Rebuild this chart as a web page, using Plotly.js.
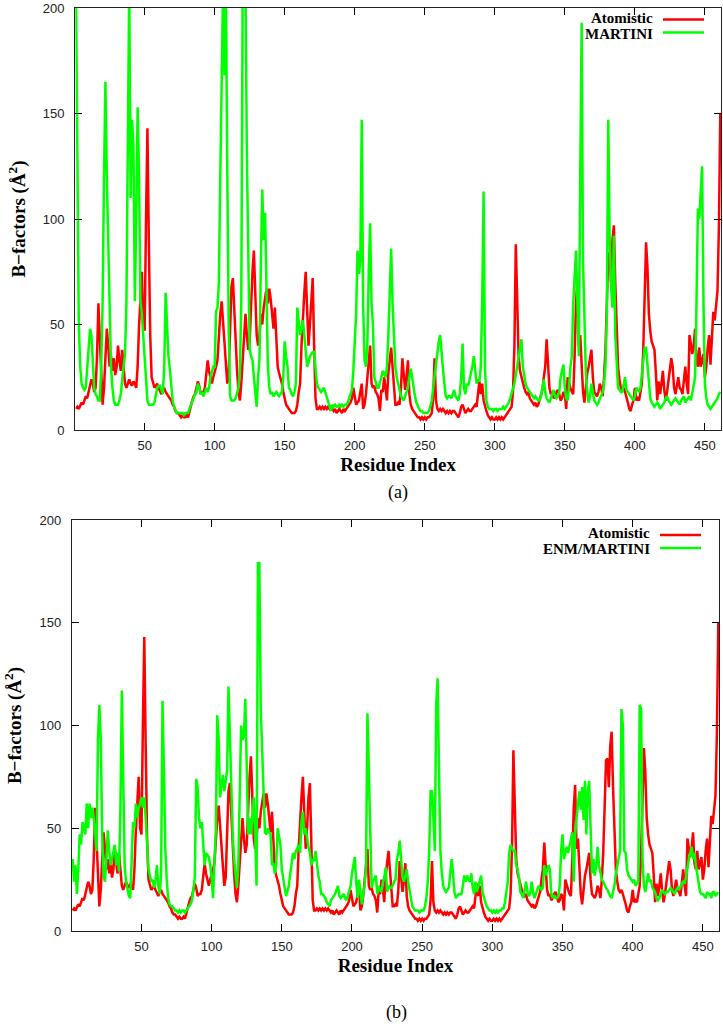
<!DOCTYPE html>
<html>
<head>
<meta charset="utf-8">
<script src="https://cdn.plot.ly/plotly-3.0.1.min.js"></script>
<style>html,body{margin:0;padding:0;background:#fff;}#chart{width:723px;height:1028px;}</style>
</head>
<body>
<div id="chart"></div>
<script>
// B-factors per residue (Å^2), residues 1..461
const atomistic = [
10,11,10,12,13,12,14,16,15,18,
20,24,22,18,20,35,60,45,25,12,
20,35,48,40,30,35,28,34,26,30,
40,33,28,38,30,22,20,22,24,22,
21,23,22,20,30,49,62,75,50,47,
100,143,90,45,25,22,20,21,22,20,
18,17,19,20,18,17,16,15,14,12,
11,9,8,8,7,6,7,6,6,7,
6,9,12,14,16,17,20,23,21,17,
18,18,20,26,33,28,24,22,25,27,
30,33,45,55,61,50,41,30,22,26,
50,68,72,55,40,28,18,14,22,35,
45,55,45,38,42,61,75,85,65,45,
40,45,55,50,58,62,67,60,67,62,
55,48,58,40,30,27,25,22,18,14,
12,11,10,9,8,8,8,9,12,18,
22,40,55,65,75,55,40,50,65,72,
40,15,10,10,11,10,11,10,11,10,
11,10,11,10,9,10,8,9,10,9,
8,10,9,10,11,12,13,15,20,16,
12,13,14,18,22,10,12,17,25,35,
40,22,20,21,18,17,15,9,19,18,
25,20,14,27,32,39,30,20,12,12,
13,12,20,34,25,19,25,33,17,12,
10,9,8,7,6,6,5,6,5,6,
5,6,6,7,8,15,34,14,10,9,
10,9,10,9,8,9,8,9,8,9,
9,8,7,6,8,11,12,10,8,9,
10,9,9,10,11,12,11,18,23,17,
22,14,11,9,7,6,5,6,5,5,
6,5,6,5,6,5,6,7,8,9,
10,11,18,40,88,60,35,28,25,22,
20,18,17,18,15,14,13,12,13,11,
12,14,16,19,25,30,43,28,20,17,
18,15,16,18,19,17,14,15,18,17,
10,25,22,20,18,17,35,60,71,40,
45,30,18,13,20,27,30,35,38,25,
18,17,16,18,22,20,16,25,38,60,
83,84,70,90,97,70,45,30,24,20,
19,20,18,16,13,10,9,12,14,20,
14,15,14,18,22,38,70,89,77,55,
47,42,40,38,27,14,23,17,22,28,
19,14,18,23,30,34,30,20,17,22,
25,20,19,17,23,30,22,17,45,39,
36,40,48,33,30,39,30,33,36,25,
30,39,45,31,45,56,52,60,66,96,
150
];

const martini = [
210,120,50,30,22,20,19,20,28,40,
48,45,30,20,17,16,14,14,30,61,
120,165,120,88,60,30,20,14,12,12,
12,14,17,24,30,36,60,150,210,110,
147,135,61,100,153,120,61,55,45,30,
20,14,12,12,12,12,13,16,20,21,
21,19,17,30,65,50,35,29,20,14,
11,9,8,8,8,8,8,7,8,8,
8,10,12,14,15,17,18,22,20,17,
18,16,18,20,18,20,25,27,30,30,
56,58,70,120,187,210,168,210,124,50,
16,14,14,14,15,17,20,28,60,210,
210,210,130,80,38,35,33,25,17,11,
25,34,80,114,90,103,67,30,20,17,
18,16,17,18,17,16,17,18,25,42,
35,30,20,19,17,16,18,22,58,50,
45,48,52,45,38,30,32,35,36,37,
37,30,22,20,19,18,19,20,18,16,
14,12,9,12,11,12,11,11,12,11,
12,11,12,12,13,15,17,19,28,45,
55,85,74,80,147,60,33,30,40,75,
98,60,50,25,22,20,20,22,25,28,
27,25,30,45,70,86,60,45,30,25,
22,18,16,15,14,16,18,20,25,29,
25,20,16,13,11,10,9,9,8,8,
8,8,9,12,14,20,26,30,38,42,
45,35,29,22,16,15,16,16,15,17,
19,16,15,14,17,25,41,20,17,22,
21,24,26,30,35,28,22,24,23,30,
60,113,30,14,11,10,10,10,9,10,
10,9,10,10,10,11,10,11,12,13,
15,17,19,22,26,30,35,40,43,30,
25,22,20,19,18,17,16,15,16,15,
14,14,16,20,24,18,15,14,13,15,
17,19,16,15,16,18,25,28,31,20,
15,14,20,30,35,60,74,85,60,35,
120,193,80,45,27,18,13,16,22,18,
14,13,12,13,15,16,18,22,30,54,
147,92,68,58,92,45,33,20,19,18,
18,22,25,19,18,17,16,15,14,16,
20,19,18,20,26,30,39,39,30,20,
15,13,12,11,12,13,12,10,11,12,
13,15,16,14,13,12,13,14,15,14,
13,12,14,15,16,13,14,15,16,14,
18,20,25,60,105,100,110,125,60,22,
15,12,11,10,11,12,13,14,15,17,
18
];

const enmMartini = [
35,24,32,18,30,47,42,53,50,47,
62,50,62,55,60,55,47,39,93,110,
93,47,27,24,35,49,39,32,35,38,
42,32,38,29,60,117,78,32,24,20,
17,16,32,53,50,62,55,60,62,65,
60,65,55,40,30,27,24,25,21,25,
32,22,18,28,112,78,40,25,16,13,
12,12,11,10,10,9,10,9,10,10,
9,10,11,12,13,15,20,26,74,70,
55,50,53,42,32,38,37,36,32,26,
16,35,50,105,93,65,72,76,68,72,
78,119,93,67,47,35,28,21,32,62,
100,93,95,113,78,47,55,47,55,65,
47,22,179,179,108,84,62,48,47,50,
48,47,32,33,28,32,50,45,42,30,
24,21,17,20,22,28,32,38,35,39,
40,42,38,53,58,47,50,45,41,38,
32,35,34,39,32,27,24,18,18,17,
16,14,13,12,15,16,17,18,20,22,
17,16,17,18,16,15,17,19,22,28,
33,36,24,16,25,18,13,18,22,32,
106,78,47,21,24,26,27,18,22,20,
19,24,26,31,19,22,21,21,22,24,
25,35,38,44,35,26,24,28,30,24,
19,16,12,11,10,10,10,9,10,10,
10,12,16,24,39,68,68,55,39,110,
123,78,39,28,22,20,19,20,21,28,
35,28,19,16,17,18,18,18,22,27,
24,27,25,24,28,21,18,24,19,22,
25,27,19,16,14,12,11,10,10,9,
10,9,10,9,10,10,11,11,14,18,
24,38,42,40,39,39,32,30,26,19,
18,16,21,24,19,17,18,24,19,16,
18,20,22,21,20,21,32,27,30,32,
30,18,16,17,16,16,17,22,39,47,
35,38,41,38,42,45,48,24,47,55,
62,68,59,70,54,73,47,68,73,47,
28,35,27,32,41,32,28,25,24,22,
21,20,18,17,16,19,22,28,32,35,
39,108,100,39,38,30,27,26,25,24,
25,22,23,24,110,108,35,22,19,24,
28,24,25,21,20,19,16,15,16,18,
20,19,18,19,19,20,21,20,19,18,
20,21,20,22,23,24,23,26,31,35,
38,41,35,38,32,28,23,19,18,18,
17,16,19,18,18,16,19,19,17,18,
19
];

const xTicks = [50, 100, 150, 200, 250, 300, 350, 400, 450];
const yTicks = [0, 50, 100, 150, 200];
const seriesNames = ['Atomistic', 'MARTINI', 'ENM/MARTINI'];
const panelLabels = ['(a)', '(b)'];

const residues = atomistic.map((_, i) => i + 1);
const RED = '#ff0000', GREEN = '#00ff00';

const traces = [
  {x: residues, y: atomistic, xaxis: 'x', yaxis: 'y', type: 'scatter', mode: 'lines', name: seriesNames[0], line: {color: RED, width: 2.5}, showlegend: false},
  {x: residues, y: martini, xaxis: 'x', yaxis: 'y', type: 'scatter', mode: 'lines', name: seriesNames[1], line: {color: GREEN, width: 2.5}, showlegend: false},
  {x: residues, y: atomistic, xaxis: 'x2', yaxis: 'y2', type: 'scatter', mode: 'lines', name: seriesNames[0], line: {color: RED, width: 2.5}, showlegend: false},
  {x: residues, y: enmMartini, xaxis: 'x2', yaxis: 'y2', type: 'scatter', mode: 'lines', name: seriesNames[2], line: {color: GREEN, width: 2.5}, showlegend: false}
];

const tickFont = {family: 'Liberation Sans, Arial, sans-serif', size: 13, color: '#222'};
const titleFont = {family: 'Liberation Serif, Times New Roman, serif', size: 19, color: '#000', weight: 'bold'};
const legFont = {family: 'Liberation Serif, Times New Roman, serif', size: 15, color: '#000', weight: 'bold'};

function xAxis(domain, anchor) {
  return {
    domain: domain, anchor: anchor, range: [0.5, 461.5],
    tickmode: 'array', tickvals: xTicks,
    ticks: 'inside', ticklen: 7, tickwidth: 1, tickcolor: '#000',
    showline: true, linecolor: '#222', linewidth: 1.2, mirror: 'allticks',
    showgrid: false, zeroline: false, tickfont: tickFont, ticklabelstandoff: 3,
    ticklabeloverflow: 'allow',
    title: {text: 'Residue Index', font: titleFont, standoff: 6}
  };
}
function yAxis(domain, anchor, range) {
  return {
    domain: domain, anchor: anchor, range: range,
    tickmode: 'array', tickvals: yTicks,
    ticks: 'inside', ticklen: 7, tickwidth: 1, tickcolor: '#000',
    showline: true, linecolor: '#222', linewidth: 1.2, mirror: 'allticks',
    showgrid: false, zeroline: false, tickfont: tickFont, ticklabelstandoff: 7,
    ticklabeloverflow: 'allow',
    title: {text: 'B\u2212factors (\u00C5<sup>2</sup>)', font: titleFont, standoff: 12}
  };
}

// plot area: x 70..721 px, y 8..932 px
const L = 70, R = 2, T = 8, B = 96, W = 723, H = 1028;
const pw = W - L - R, ph = H - T - B;
const px = X => (X - L) / pw;
const py = Y => (H - B - Y) / ph;

const labelFont = {family: 'Liberation Serif, Times New Roman, serif', size: 18, color: '#000'};
function legText(X, Y, txt, anchor) {
  return {xref: 'paper', yref: 'paper', x: px(X), y: py(Y), text: txt, showarrow: false,
          xanchor: 'right', yanchor: anchor, borderpad: 0, font: legFont};
}

const layout = {
  width: W, height: H,
  margin: {l: L, r: R, t: T, b: B},
  paper_bgcolor: '#fff', plot_bgcolor: '#fff',
  showlegend: false,
  xaxis: xAxis([px(75.3), px(721)], 'y'),
  yaxis: yAxis([py(430), py(8)], 'x', [0, 200]),
  xaxis2: xAxis([px(72), px(719)], 'y2'),
  yaxis2: yAxis([py(931), py(520)], 'x2', [0, 200]),
  annotations: [
    {xref: 'paper', yref: 'paper', x: px(398), y: py(492), text: panelLabels[0], showarrow: false, xanchor: 'center', yanchor: 'middle', font: labelFont},
    {xref: 'paper', yref: 'paper', x: px(396), y: py(1013), text: panelLabels[1], showarrow: false, xanchor: 'center', yanchor: 'middle', font: labelFont},
    legText(654, 27, seriesNames[0], 'bottom'),
    legText(654, 25, seriesNames[1], 'top'),
    legText(651, 542, seriesNames[0], 'bottom'),
    legText(651, 540, seriesNames[2], 'top')
  ],
  shapes: [
    {type: 'line', xref: 'paper', yref: 'paper', x0: px(663), x1: px(704), y0: py(19.5), y1: py(19.5), line: {color: RED, width: 2.5}},
    {type: 'line', xref: 'paper', yref: 'paper', x0: px(663), x1: px(704), y0: py(32.5), y1: py(32.5), line: {color: GREEN, width: 2.5}},
    {type: 'line', xref: 'paper', yref: 'paper', x0: px(660), x1: px(701), y0: py(535), y1: py(535), line: {color: RED, width: 2.5}},
    {type: 'line', xref: 'paper', yref: 'paper', x0: px(660), x1: px(701), y0: py(548), y1: py(548), line: {color: GREEN, width: 2.5}}
  ]
};

Plotly.newPlot('chart', traces, layout, {displayModeBar: false, staticPlot: true});
</script>
</body>
</html>
